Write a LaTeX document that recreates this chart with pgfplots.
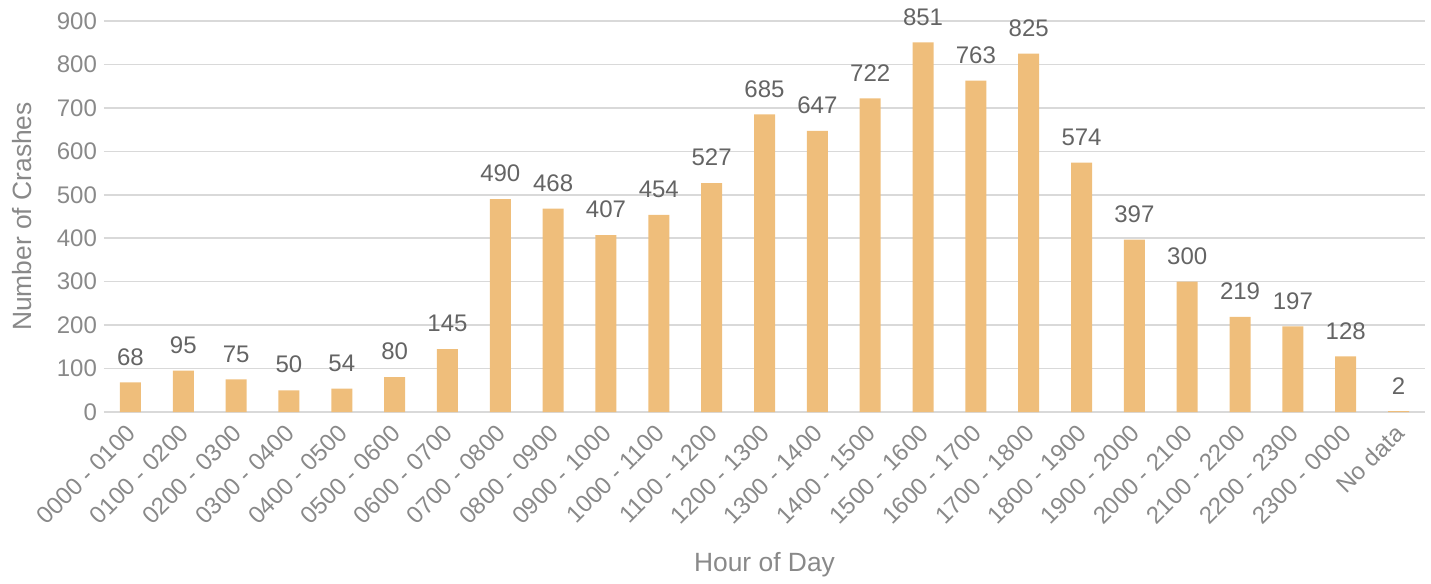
\documentclass[border=0pt]{standalone}
\usepackage{pgfplots}
\pgfplotsset{compat=1.18}
\usepackage{fontspec}
\setmainfont{Liberation Sans}
\definecolor{barC}{RGB}{239,190,123}
\definecolor{tickC}{RGB}{137,137,137}
\definecolor{lblC}{RGB}{100,100,100}
\definecolor{gridC}{RGB}{217,217,217}

\begin{document}
\begin{tikzpicture}
\begin{axis}[
  scale only axis,
  width=660.5pt, height=195.5pt,
  ymin=0, ymax=900,
  xmin=-0.5, xmax=24.5,
  ytick={0,100,...,900},
  xtick={0,...,24},
  xticklabels={0000 - 0100,0100 - 0200,0200 - 0300,0300 - 0400,0400 - 0500,
    0500 - 0600,0600 - 0700,0700 - 0800,0800 - 0900,0900 - 1000,1000 - 1100,
    1100 - 1200,1200 - 1300,1300 - 1400,1400 - 1500,1500 - 1600,1600 - 1700,
    1700 - 1800,1800 - 1900,1900 - 2000,2000 - 2100,2100 - 2200,2200 - 2300,
    2300 - 0000,No data},
  % shifts act in the rotated frame
  x tick label style={rotate=45, anchor=north east, font=\fontsize{12}{14}\selectfont,
    text=tickC, inner sep=1pt, yshift=-1pt, xshift=-4.5pt},
  y tick label style={font=\fontsize{12}{14}\selectfont, text=tickC},
  /pgf/number format/assume math mode=true,
  major tick length=0pt,
  axis line style={draw=none},
  ymajorgrids, grid style={gridC, line width=0.8pt},
  ylabel={Number of Crashes},
  xlabel={Hour of Day},
  label style={font=\fontsize{13.2}{15}\selectfont, text=tickC},
  ylabel style={at={([xshift=-41pt]axis description cs:0,0.5)}, anchor=center},
  xlabel style={at={([yshift=-76.5pt]axis description cs:0.5,0)}, anchor=center},
  ybar, bar width=10.5pt,
  nodes near coords,
  every node near coord/.append style={font=\fontsize{12}{14}\selectfont, text=lblC, yshift=5pt},
]
\addplot[fill=barC, draw=none] coordinates {
  (0,68)(1,95)(2,75)(3,50)(4,54)(5,80)(6,145)(7,490)(8,468)(9,407)
  (10,454)(11,527)(12,685)(13,647)(14,722)(15,851)(16,763)(17,825)
  (18,574)(19,397)(20,300)(21,219)(22,197)(23,128)(24,2)};
\end{axis}
\path[use as bounding box] (-52pt,-84.5pt) rectangle (663.5pt,206pt);
\end{tikzpicture}
\end{document}
